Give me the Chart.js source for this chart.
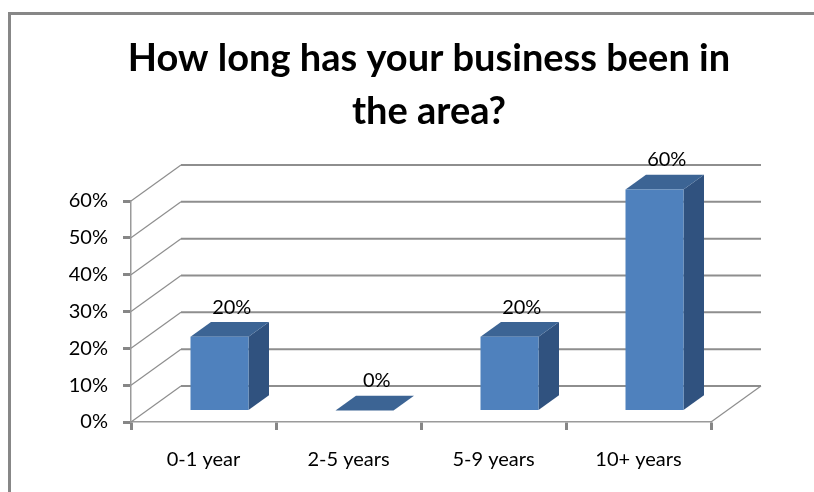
<!DOCTYPE html>
<html>
<head>
<meta charset="utf-8">
<script src="https://cdn.jsdelivr.net/npm/chart.js@4/dist/chart.umd.min.js"></script>
<style>
  html, body { margin: 0; padding: 0; background: #fff; overflow: hidden; }
</style>
</head>
<body>
<canvas id="tenureChart" width="814" height="492"></canvas>
<script>
// Survey answers
const categories = ['0-1 year', '2-5 years', '5-9 years', '10+ years'];
const shares = [20, 0, 20, 60]; // percent of respondents
const yTickLabels = ['0%', '10%', '20%', '30%', '40%', '50%', '60%'];
const titleLines = ['How long has your business been in', 'the area?'];

// 3D look: back wall offset and where the bars sit in depth
const WALL = { dx: 50, dy: -36 };
const BAR_INSET = 0.32;
const BAR_DEPTH = 0.41;

const FRONT = '#4F81BD';
const TOP = '#3C6494';
const SIDE = '#30527F';
const LINE = '#8E8E8E';
const FONT = 'Lato, "Open Sans", sans-serif';

const box3d = {
  id: 'box3d',
  beforeDraw(chart) {
    const { ctx, width, height } = chart;
    ctx.save();
    ctx.fillStyle = '#fff';
    ctx.fillRect(0, 0, width, height);
    // outer frame (runs off the right/bottom edge)
    ctx.strokeStyle = '#878787';
    ctx.lineWidth = 3;
    ctx.beginPath();
    ctx.moveTo(9.5, height + 5);
    ctx.lineTo(9.5, 13.5);
    ctx.lineTo(width + 5, 13.5);
    ctx.stroke();
    // title
    ctx.fillStyle = '#000';
    ctx.font = 'bold 38px ' + FONT;
    ctx.textAlign = 'center';
    ctx.textBaseline = 'middle';
    titleLines.forEach((t, i) => ctx.fillText(t, 429, 59 + i * 53));
    ctx.restore();
  },
  beforeDatasetsDraw(chart) {
    const { ctx, chartArea: a, scales: { y } } = chart;
    ctx.save();
    ctx.strokeStyle = LINE;
    y.ticks.forEach(t => {
      const py = y.getPixelForValue(t.value);
      // side wall diagonal
      ctx.lineWidth = 1.2;
      ctx.beginPath();
      ctx.moveTo(a.left, py);
      ctx.lineTo(a.left + WALL.dx, py + WALL.dy);
      ctx.stroke();
      // back wall gridline
      ctx.lineWidth = 2;
      ctx.beginPath();
      ctx.moveTo(a.left + WALL.dx, py + WALL.dy);
      ctx.lineTo(a.right + WALL.dx, py + WALL.dy);
      ctx.stroke();
    });
    // right edge of the floor
    ctx.lineWidth = 1.2;
    ctx.beginPath();
    ctx.moveTo(a.right, a.bottom);
    ctx.lineTo(a.right + WALL.dx, a.bottom + WALL.dy);
    ctx.stroke();
    ctx.restore();

    // bars are pushed back into the box; side and top faces first
    ctx.save();
    ctx.translate(WALL.dx * BAR_INSET, WALL.dy * BAR_INSET);
    const ddx = WALL.dx * BAR_DEPTH, ddy = WALL.dy * BAR_DEPTH;
    chart.getDatasetMeta(0).data.forEach(bar => {
      const { x, y: top, base, width } = bar.getProps(['x', 'y', 'base', 'width'], true);
      const l = x - width / 2, r = x + width / 2;
      ctx.fillStyle = SIDE;
      ctx.beginPath();
      ctx.moveTo(r, top);
      ctx.lineTo(r + ddx, top + ddy);
      ctx.lineTo(r + ddx, base + ddy);
      ctx.lineTo(r, base);
      ctx.closePath();
      ctx.fill();
      ctx.fillStyle = TOP;
      ctx.beginPath();
      ctx.moveTo(l, top);
      ctx.lineTo(l + ddx, top + ddy);
      ctx.lineTo(r + ddx, top + ddy);
      ctx.lineTo(r, top);
      ctx.closePath();
      ctx.fill();
    });
  },
  afterDatasetsDraw(chart) {
    const { ctx } = chart;
    ctx.restore();
    // value labels above each bar
    const ddx = WALL.dx * BAR_DEPTH, ddy = WALL.dy * BAR_DEPTH;
    ctx.save();
    ctx.fillStyle = '#000';
    ctx.font = '20px ' + FONT;
    ctx.textAlign = 'center';
    ctx.textBaseline = 'middle';
    chart.getDatasetMeta(0).data.forEach((bar, i) => {
      const { x, y: top } = bar.getProps(['x', 'y'], true);
      const lx = x + WALL.dx * BAR_INSET + ddx / 2 + 2;
      const ly = top + WALL.dy * BAR_INSET + ddy - 15;
      ctx.fillText(shares[i] + '%', lx, ly);
    });
    ctx.restore();
  }
};

new Chart(document.getElementById('tenureChart'), {
  type: 'bar',
  data: {
    labels: categories,
    datasets: [{
      data: shares,
      backgroundColor: FRONT,
      borderWidth: 0,
      barPercentage: 0.4,
      categoryPercentage: 1,
      clip: false
    }]
  },
  options: {
    responsive: false,
    devicePixelRatio: 1,
    animation: false,
    layout: { padding: { top: 201, right: 103, left: 0, bottom: 0 } },
    plugins: { legend: { display: false }, tooltip: { enabled: false } },
    scales: {
      x: {
        grid: { display: true, drawOnChartArea: false, offset: true, tickLength: 8, tickWidth: 3, tickColor: '#868686' },
        border: { display: true, color: '#9A9A9A', width: 1.5, dash: [2, 2] },
        ticks: { color: '#000', padding: 18, font: { family: FONT, size: 20 } },
        afterFit(s) { s.height = 70; }
      },
      y: {
        min: 0,
        max: 60,
        grid: { display: true, drawOnChartArea: false, tickLength: 8, tickWidth: 3, tickColor: '#868686' },
        border: { display: true, color: '#9A9A9A', width: 1.5, dash: [2, 2] },
        ticks: {
          stepSize: 10,
          color: '#000',
          padding: 15,
          font: { family: FONT, size: 20 },
          callback: (v, i) => yTickLabels[i]
        },
        afterFit(s) { s.width = 131; }
      }
    }
  },
  plugins: [box3d]
});
</script>
</body>
</html>
